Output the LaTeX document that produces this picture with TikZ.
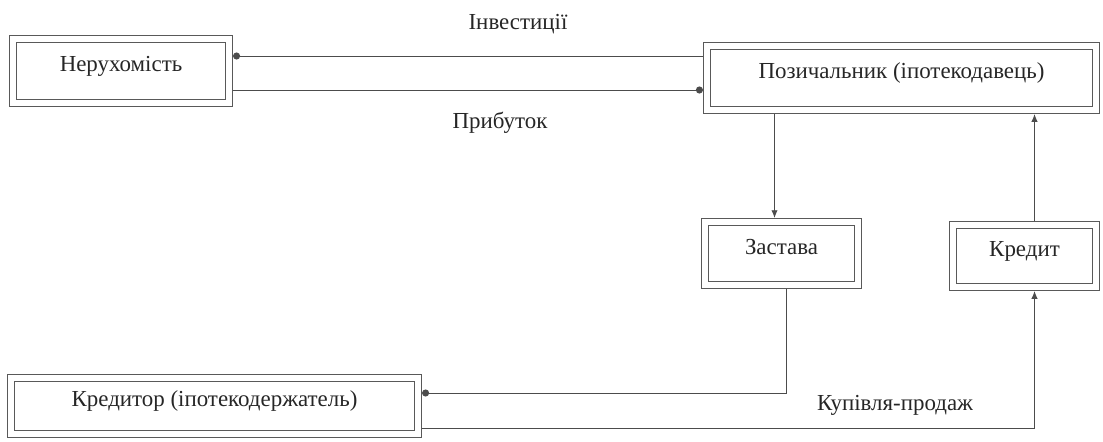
\documentclass[tikz,border=0pt]{standalone}
\usepackage{fontspec}
\setmainfont{Liberation Serif}
\usetikzlibrary{calc,arrows.meta}

\begin{document}
\begin{tikzpicture}[x=0.025cm,y=-0.025cm,
				blk/.style={draw=black!65,line width=0.6pt,double=white,
					double distance=4.5pt,inner sep=0pt,outer sep=2.85pt,
					text depth=0.35cm,
					font=\fontsize{16.3}{19}\selectfont,text=black!85},
				conn/.style={draw=black!70,line width=0.7pt},
				dot/.style={-{Circle[length=5pt]}},
				tip/.style={-{Latex[length=5.5pt,width=4.5pt]}},
				lbl/.style={font=\fontsize{16.3}{19}\selectfont,text=black!85}]

				\useasboundingbox (0,0) rectangle (1103,441);

				%%%%%%%%%%%%%%%%  boxes  %%%%%%%%%%%%%%%%
				\node[blk,minimum width=5.4cm,minimum height=1.6cm] (nerukh)
					at (121,71) {Нерухомість};
				\node[blk,minimum width=9.725cm,minimum height=1.6cm] (pozych)
					at (901.5,78) {Позичальник (іпотекодавець)};
				\node[blk,minimum width=3.825cm,minimum height=1.575cm] (zastava)
					at (781.5,253.5) {Застава};
				\node[blk,minimum width=3.575cm,minimum height=1.55cm] (kredyt)
					at (1024.5,256) {Кредит};
				\node[blk,minimum width=10.175cm,minimum height=1.4cm] (kredytor)
					at (214.5,406) {Кредитор (іпотекодержатель)};

				%%%%%%%%%%%%%%%%  labels  %%%%%%%%%%%%%%%%
				\node[lbl] (invest) at (518,24) {Інвестиції};
				\node[lbl] (profit) at (500,123) {Прибуток};
				\node[lbl] (sale) at (895,405) {Купівля-продаж};

				%%%%%%%%%%%%%%%%  connectors  %%%%%%%%%%%%%%%%
				% investment and profit
				\coordinate (inv) at ($(pozych.west)+(0,-22)$);
				\draw[conn,dot] (inv) -- (inv -| nerukh.east);
				\coordinate (prof) at ($(nerukh.east)+(0,19)$);
				\draw[conn,dot] (prof) -- (prof -| pozych.west);
				% pledge
				\coordinate (zin) at ($(zastava.north)+(-7,0)$);
				\draw[conn,tip] (zin |- pozych.south) -- (zin);
				\coordinate (zout) at ($(zastava.south)+(5,0)$);
				\draw[conn,dot] (zout) |- ($(kredytor.east)+(0,-13)$);
				% sale and credit
				\coordinate (kin) at ($(kredyt.south)+(10,0)$);
				\draw[conn,tip] ($(kredytor.east)+(0,22)$) -| (kin);
				\draw[conn,tip] (kin |- kredyt.north) -- (kin |- pozych.south);
			\end{tikzpicture}
\end{document}
